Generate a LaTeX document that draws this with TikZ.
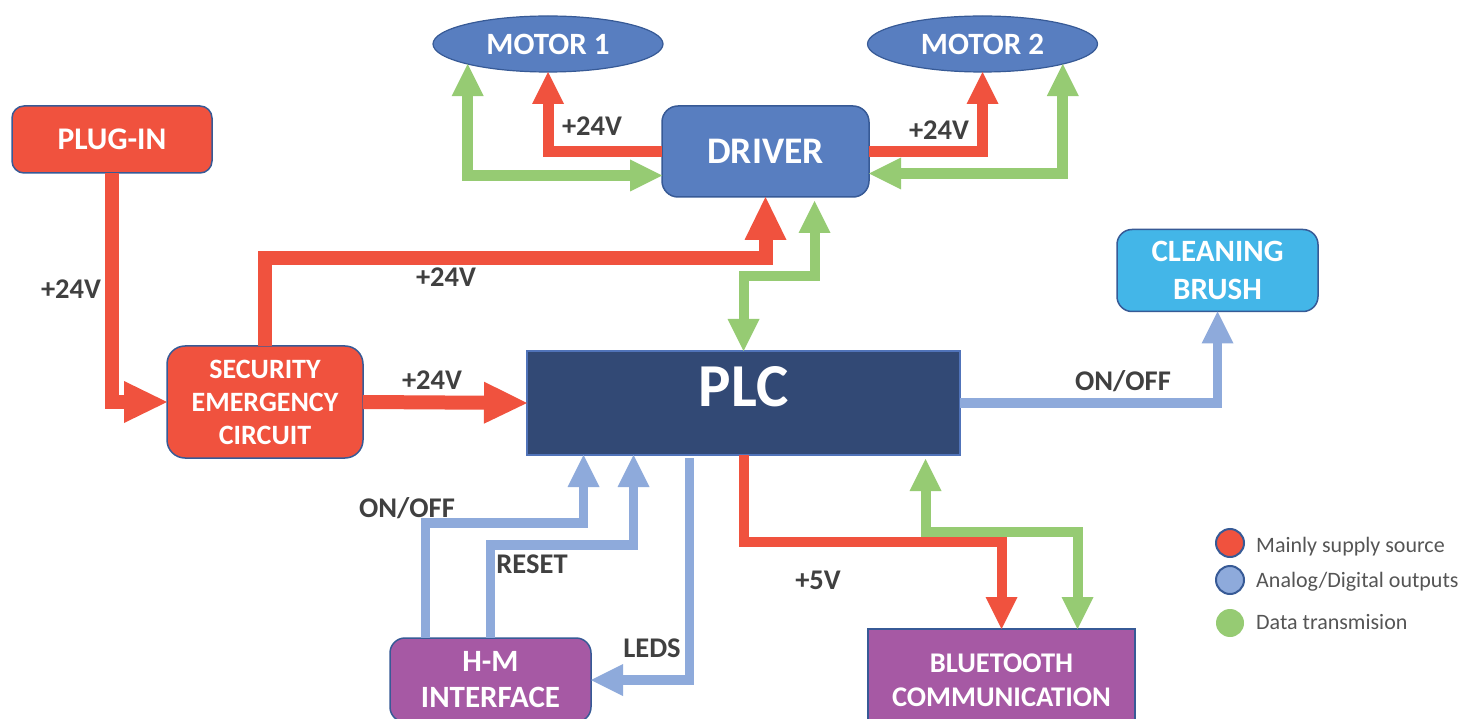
\documentclass[tikz,border=0pt]{standalone}
\usepackage{fontspec}
\setmainfont{Carlito}
\usetikzlibrary{arrows.meta,shapes.geometric}
\definecolor{cred}{RGB}{240,82,62}
\definecolor{cblue}{RGB}{88,126,192}
\definecolor{cnavy}{RGB}{50,73,117}
\definecolor{cplcborder}{RGB}{80,115,185}
\definecolor{ccyan}{RGB}{67,182,232}
\definecolor{cpurple}{RGB}{166,89,164}
\definecolor{clblue}{RGB}{142,170,219}
\definecolor{cgreen}{RGB}{150,203,115}
\definecolor{cborder}{RGB}{55,90,150}
\definecolor{ctext}{RGB}{64,64,64}
\definecolor{clegtext}{RGB}{85,85,85}
\newcommand\myfs[2]{\fontsize{#1}{#2}\selectfont}
\tikzset{
  bigtip/.tip={Triangle[length=43pt,width=42pt,line width=0pt]},
  midtip/.tip={Triangle[length=32pt,width=32pt,line width=0pt]},
  box/.style={draw=cborder,line width=1.5pt,text=white,align=center,inner sep=0pt,outer sep=0pt},
  ell/.style={ellipse,draw=cborder,fill=cblue,line width=1.2pt,minimum width=230pt,minimum height=56pt,inner sep=0pt,outer sep=0pt,text=white,font=\myfs{31}{36}\bfseries},
  redbig/.style={draw=cred,line width=14pt,arrows={-bigtip}},
  redmid/.style={draw=cred,line width=11pt,arrows={-midtip}},
  redsmall/.style={draw=cred,line width=10pt,arrows={-midtip}},
  greenb/.style={draw=cgreen,line width=11pt,arrows={midtip-midtip}},
  greens/.style={draw=cgreen,line width=10pt,arrows={midtip-midtip}},
  bluea/.style={draw=clblue,line width=9.5pt,arrows={-midtip}},
  lbl/.style={text=ctext,font=\myfs{28.5}{33}\bfseries,inner sep=0pt},
  legtext/.style={text=clegtext,font=\myfs{22}{26},inner sep=0pt,anchor=base west},
  legdot/.style={circle,minimum size=28pt,inner sep=0pt},
}
\begin{document}
\begin{tikzpicture}[x=1pt,y=-1pt]
\useasboundingbox (0,0) rectangle (1462,719);
\fill[white] (0,0) rectangle (1462,719);

% nodes
\node[box,fill=cred,minimum width=200pt,minimum height=67pt,rounded corners=12pt,font=\myfs{31.5}{36}\bfseries] (plug) at (112,139.5) {PLUG-IN};
\node[box,fill=cred,minimum width=196pt,minimum height=112pt,rounded corners=18pt,font=\myfs{28}{33}\bfseries] (sec) at (265,402) {SECURITY\\EMERGENCY\\CIRCUIT};
\node[draw=cplcborder,fill=cnavy,line width=2pt,minimum width=433pt,minimum height=104pt,inner sep=0pt,outer sep=0pt] (plc) at (743.5,403) {};
\node[text=white,font=\myfs{61}{70}\bfseries,inner sep=0pt] (plctext) at (743.5,387) {PLC};
\node[box,fill=cblue,minimum width=207pt,minimum height=91pt,rounded corners=16pt,font=\myfs{37.5}{42}\bfseries] (driver) at (765.5,151.5) {DRIVER};
\node[ell] (m1) at (548,44) {MOTOR 1};
\node[ell] (m2) at (982.5,44) {MOTOR 2};
\node[box,fill=ccyan,minimum width=201pt,minimum height=82pt,rounded corners=15pt,font=\myfs{31}{38}\bfseries] (clean) at (1217.5,270.5) {CLEANING\\BRUSH};
\node[box,fill=cpurple,minimum width=201pt,minimum height=84pt,rounded corners=15pt,font=\myfs{31}{36}\bfseries] (hm) at (490.5,680) {H-M\\INTERFACE};
\node[box,fill=cpurple,minimum width=267pt,minimum height=102pt,font=\myfs{28.5}{34}\bfseries] (bt) at (1001.5,680) {BLUETOOTH\\COMMUNICATION};

% red supply connectors
\draw[redbig] (plug.south) |- (sec.west);
\draw[redbig] (sec.north) |- ([yshift=-61pt]driver.south) -- (driver.south);
\draw[redbig] (sec.east) -- (plc.west);
\draw[redmid] (driver.west) -| (m1.south);
\draw[redmid] (driver.east) -| (m2.south);

% green data connectors
\draw[greenb] (m1.194) |- ([yshift=-24pt]driver.west);
\draw[greenb] (m2.346) |- ([yshift=-22pt]driver.east);
\draw[greens] ([xshift=49pt,yshift=-4pt]driver.south) |- ([yshift=75pt]plc.north) -- (plc.north);
\draw[greens] ([xshift=182pt,yshift=-4pt]plc.south) |- ([xshift=76pt,yshift=97pt]bt.north) -- ([xshift=76pt]bt.north);
\draw[redsmall] (plc.south) |- ([yshift=87pt]bt.north) -- (bt.north);

% blue analog/digital connectors
\draw[bluea] (plc.east) -| (clean.south);
\draw[bluea] ([xshift=-65pt]hm.north) |- ([xshift=-160pt,yshift=-68pt]plc.south) -- ([xshift=-160pt]plc.south);
\draw[bluea] (hm.north) |- ([xshift=-110pt,yshift=-90pt]plc.south) -- ([xshift=-110pt]plc.south);
\draw[bluea] ([xshift=-54pt,yshift=-3pt]plc.south) |- (hm.east);

% labels
\node[lbl] (l1) at (71,289) {+24V};
\node[lbl] (l2) at (446,277) {+24V};
\node[lbl] (l3) at (432,380) {+24V};
\node[lbl] (l4) at (592,126) {+24V};
\node[lbl] (l5) at (939,130) {+24V};
\node[lbl] (l6) at (1123,381) {ON/OFF};
\node[lbl] (l7) at (407,508) {ON/OFF};
\node[lbl] (l8) at (532,564) {RESET};
\node[lbl] (l9) at (652,648) {LEDS};
\node[lbl] (l10) at (818,580) {+5V};

% legend
\node[legdot,fill=cred,draw=cborder,line width=2pt] (d1) at (1230,543) {};
\node[legdot,fill=clblue,draw=cborder,line width=2pt] (d2) at (1230,580) {};
\node[legdot,fill=cgreen] (d3) at (1230,623) {};
\node[legtext] (t1) at (1256,552) {Mainly supply source};
\node[legtext] (t2) at (1256,587) {Analog/Digital outputs};
\node[legtext] (t3) at (1256,629) {Data transmision};
\end{tikzpicture}
\end{document}
